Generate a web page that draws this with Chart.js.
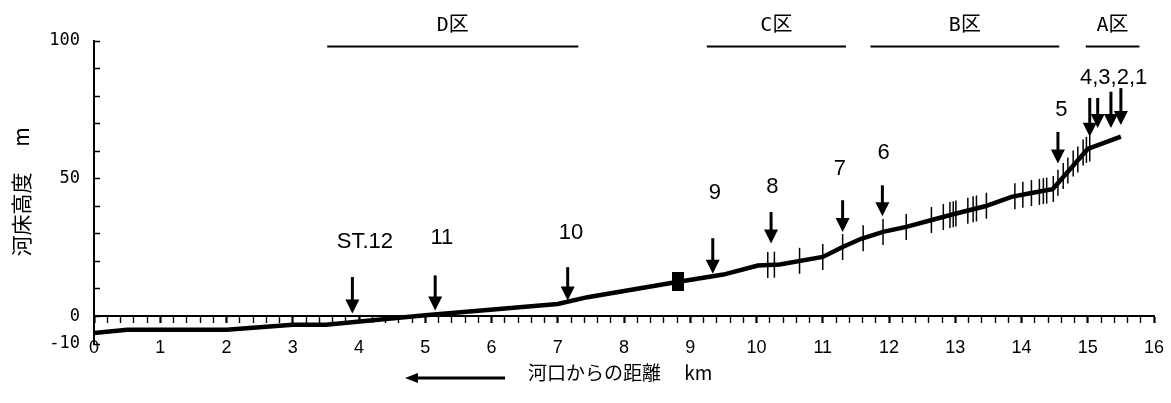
<!DOCTYPE html>
<html>
<head>
<meta charset="utf-8">
<script src="https://cdn.jsdelivr.net/npm/chart.js@4.4.0/dist/chart.umd.min.js"></script>
<style>
  html, body { margin: 0; padding: 0; background: #fff; }
  #wrap { width: 1171px; height: 403px; }
</style>
</head>
<body>
<div id="wrap"><canvas id="riverChart" width="1171" height="403"></canvas></div>
<script>
// 河床縦断 (河口からの距離 km, 河床高度 m)
const profileKm = [0, 0.5, 2, 3, 3.5, 5, 7, 7.45, 8.8, 9.5, 10.02, 10.35, 11.0, 11.3, 11.58, 11.91, 12.26, 12.66, 13.0, 13.45, 13.85, 14.15, 14.47, 15.0, 15.5];
const profileY = [-6, -4.8, -4.8, -3, -3, 0.4, 4.5, 7, 12.5, 15.2, 18.5, 18.9, 21.6, 25.2, 28.2, 30.7, 32.5, 35.1, 37.3, 40.0, 43.4, 44.8, 46.2, 60.8, 65.3];

// 縦線 (測線)
const hatchKm = [10.17, 10.27, 10.65, 11.0, 11.3, 11.61, 11.91, 12.26, 12.64, 12.82, 12.92, 12.97, 13.01, 13.19, 13.27, 13.32, 13.47, 13.9, 14.02, 14.15, 14.27, 14.33, 14.38, 14.48, 14.55, 14.63, 14.7, 14.78, 14.85, 14.93, 14.98, 15.03];
const hatchY = [18.7, 18.8, 20.2, 21.6, 25.2, 28.4, 30.7, 32.5, 35.0, 36.1, 36.8, 37.1, 37.4, 38.4, 38.9, 39.2, 40.2, 43.6, 44.2, 44.8, 45.2, 45.5, 45.7, 46.3, 48.5, 51, 53, 55.5, 57, 59.5, 60.5, 61];

// 堰
const damKm = [8.81];
const damY = [12.7];

// 調査地点の矢印
const arrowKm = [3.9, 5.15, 7.15, 9.34, 10.22, 11.3, 11.9, 14.55, 15.03, 15.15, 15.35, 15.5];
const arrowTop = [14.3, 14.9, 17.9, 28.4, 37.9, 42.2, 47.6, 67, 79.3, 79.3, 81.6, 82.9];
const arrowTip = [1.1, 2.2, 5.8, 15.5, 26.5, 30.7, 36.4, 55.5, 65.2, 68.4, 68.4, 69.5];

const stationLabels = ['ST.12', '11', '10', '9', '8', '7', '6', '5', '4,3,2,1'];
const stationLabelKm = [4.09, 5.25, 7.2, 9.37, 10.24, 11.26, 11.92, 14.6, 15.39];
const stationLabelY = [27, 28.4, 30.2, 44.7, 47, 53.5, 59.4, 74.9, 86.5];

// 区間
const zoneNames = ['D区', 'C区', 'B区', 'A区'];
const zoneStart = [3.52, 9.25, 11.72, 14.97];
const zoneEnd = [7.31, 11.35, 14.57, 15.78];
const ZONE_LINE_Y = 98;

const yLabelTicks = [-10, 0, 50, 100];

const isWhole = v => Math.abs(v - Math.round(v)) < 1e-6;

// 堰のマーカー (縦長の四角)
const damIcon = document.createElement('canvas');
damIcon.width = 12;
damIcon.height = 19;
damIcon.getContext('2d').fillRect(0, 0, 12, 19);

const overlay = {
    id: 'overlay',
    afterDatasetsDraw(chart) {
        const ctx = chart.ctx;
        const xs = chart.scales.x;
        const ys = chart.scales.y;
        ctx.save();
        ctx.fillStyle = '#000';
        ctx.strokeStyle = '#000';

        // 矢印
        arrowKm.forEach((km, i) => {
            const px = xs.getPixelForValue(km);
            const top = ys.getPixelForValue(arrowTop[i]);
            const tip = ys.getPixelForValue(arrowTip[i]);
            ctx.lineWidth = 3;
            ctx.beginPath();
            ctx.moveTo(px, top);
            ctx.lineTo(px, tip - 12);
            ctx.stroke();
            ctx.beginPath();
            ctx.moveTo(px - 7, tip - 14);
            ctx.lineTo(px + 7, tip - 14);
            ctx.lineTo(px, tip);
            ctx.closePath();
            ctx.fill();
        });

        // 地点名
        ctx.font = '22px "Liberation Sans", Arial, sans-serif';
        ctx.textAlign = 'center';
        ctx.textBaseline = 'middle';
        stationLabels.forEach((t, i) => {
            ctx.fillText(t, xs.getPixelForValue(stationLabelKm[i]), ys.getPixelForValue(stationLabelY[i]));
        });

        // 区間
        const zy = ys.getPixelForValue(ZONE_LINE_Y);
        ctx.lineWidth = 2;
        ctx.font = '20px "DejaVu Sans Mono", "Noto Sans CJK JP", monospace';
        zoneNames.forEach((name, i) => {
            const x1 = xs.getPixelForValue(zoneStart[i]);
            const x2 = xs.getPixelForValue(zoneEnd[i]);
            ctx.beginPath();
            ctx.moveTo(x1, zy);
            ctx.lineTo(x2, zy);
            ctx.stroke();
            ctx.fillText(name, (x1 + x2) / 2, zy - 21);
        });

        // 縦軸タイトル
        ctx.save();
        ctx.translate(21, 192);
        ctx.rotate(-Math.PI / 2);
        ctx.font = '21px "Noto Sans CJK JP", sans-serif';
        ctx.fillText('河床高度　 m', 0, 0);
        ctx.restore();

        // 横軸タイトルと矢印
        ctx.textAlign = 'left';
        ctx.font = '19px "Noto Sans CJK JP", sans-serif';
        ctx.fillText('河口からの距離　 km', 528, 373);
        ctx.lineWidth = 3;
        ctx.beginPath();
        ctx.moveTo(416, 378);
        ctx.lineTo(505, 378);
        ctx.stroke();
        ctx.beginPath();
        ctx.moveTo(405, 378);
        ctx.lineTo(418, 373);
        ctx.lineTo(418, 383);
        ctx.closePath();
        ctx.fill();

        ctx.restore();
    }
};

new Chart('riverChart', {
    type: 'scatter',
    data: {
        datasets: [
            {
                label: '河床',
                data: profileKm.map((km, i) => ({ x: km, y: profileY[i] })),
                showLine: true,
                borderColor: '#000',
                borderWidth: 4.5,
                pointRadius: 0,
                tension: 0
            },
            {
                label: '測線',
                data: hatchKm.map((km, i) => ({ x: km, y: hatchY[i] })),
                pointStyle: 'line',
                rotation: 90,
                radius: 13,
                borderColor: '#000',
                borderWidth: 1.5
            },
            {
                label: '堰',
                data: damKm.map((km, i) => ({ x: km, y: damY[i] })),
                pointStyle: damIcon
            }
        ]
    },
    options: {
        responsive: false,
        devicePixelRatio: 1,
        animation: false,
        layout: { padding: { left: 0, right: 17, top: 41, bottom: 59 } },
        plugins: {
            legend: { display: false },
            tooltip: { enabled: false }
        },
        scales: {
            x: {
                type: 'linear',
                position: { y: 0 },
                min: 0,
                max: 16,
                afterFit: s => { s.paddingLeft = 0; s.paddingRight = 0; },
                grid: {
                    drawOnChartArea: false,
                    color: '#000',
                    tickLength: 6,
                    tickWidth: c => isWhole(c.tick.value) ? 2.2 : 1.4
                },
                border: { color: '#000', width: 2 },
                ticks: {
                    stepSize: 0.2,
                    autoSkip: false,
                    maxRotation: 0,
                    padding: 15,
                    color: '#000',
                    font: { family: '"Liberation Sans", Arial, sans-serif', size: 18 },
                    callback: v => isWhole(v) ? String(Math.round(v)) : ''
                }
            },
            y: {
                min: -10,
                max: 100,
                afterFit: s => { s.width = 94; },
                grid: { drawOnChartArea: false, color: '#000', tickLength: -6, tickWidth: 1.5 },
                border: { color: '#000', width: 2 },
                ticks: {
                    stepSize: 10,
                    autoSkip: false,
                    padding: 20,
                    color: '#000',
                    font: { family: '"DejaVu Sans Mono", monospace', size: 17 },
                    callback: v => yLabelTicks.includes(v) ? String(v) : ''
                }
            }
        }
    },
    plugins: [overlay]
});
</script>
</body>
</html>
